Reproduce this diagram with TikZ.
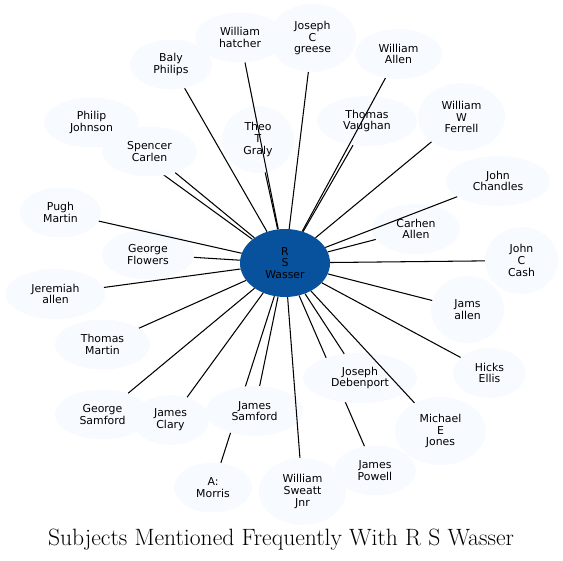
\documentclass[tikz,border=0pt]{standalone}
\usepackage{fontspec}
\usetikzlibrary{shapes.geometric}
\newfontfamily\dejavu{DejaVu Sans}
\definecolor{nodefill}{HTML}{F7FBFF}
\definecolor{hubfill}{HTML}{08519C}
\tikzset{
  sub/.style={ellipse, fill=nodefill, draw=none, inner sep=0pt, align=center,
    font=\dejavu\fontsize{10.9}{11.7}\selectfont},
  hub/.style={sub, fill=hubfill},
  sz/.style 2 args={minimum width=#1pt, minimum height=#2pt},
  link/.style={draw=black, line width=1.05pt},
}
\begin{document}
\begin{tikzpicture}[x=1pt,y=-1pt]
\useasboundingbox (0,0) rectangle (563,561);
% hub
\node[hub, sz={90}{68}] (c) at (285,263) {R\\S\\Wasser};
% nodes
\node[sub, sz={90}{50}] (hatcher) at (240,37.5) {William\\hatcher};
\node[sub, sz={87}{68}] (greese) at (312.5,38) {Joseph\\C\\greese};
\node[sub, sz={82}{50}] (baly) at (171,64.5) {Baly\\Philips};
\node[sub, sz={87}{50}] (wallen) at (398.5,54) {William\\Allen};
\node[sub, sz={95}{50}] (philip) at (91.5,122.5) {Philip\\Johnson};
\node[sub, sz={72}{67}] (theo) at (258,139.5) {Theo\\T\\Graly};
\node[sub, sz={100}{50}] (vaughan) at (367,121) {Thomas\\Vaughan};
\node[sub, sz={87}{68}] (ferrell) at (461.5,117) {William\\W\\Ferrell};
\node[sub, sz={104}{50}] (chandles) at (498,181) {John\\Chandles};
\node[sub, sz={81}{50}] (pugh) at (60.5,212.5) {Pugh\\Martin};
\node[sub, sz={88}{50}] (carhen) at (416,229) {Carhen\\Allen};
\node[sub, sz={92}{50}] (flowers) at (148,254.5) {George\\Flowers};
\node[sub, sz={73}{67}] (cash) at (521.5,260.5) {John\\C\\Cash};
\node[sub, sz={100}{50}] (jeremiah) at (55.5,294) {Jeremiah\\allen};
\node[sub, sz={73}{67}] (jams) at (467.5,309.5) {Jams\\allen};
\node[sub, sz={95}{50}] (tmartin) at (102.5,344.5) {Thomas\\Martin};
\node[sub, sz={73}{50}] (hicks) at (489.5,373) {Hicks\\Ellis};
\node[sub, sz={95}{50}] (gsamford) at (102.5,414.5) {George\\Samford};
\node[sub, sz={77}{50}] (clary) at (170.5,420) {James\\Clary};
\node[sub, sz={91}{68}] (michael) at (440.5,431) {Michael\\E\\Jones};
\node[sub, sz={82}{50}] (powell) at (375,470.5) {James\\Powell};
\node[sub, sz={78}{50}] (morris) at (213,487.5) {A:\\Morris};
\node[sub, sz={87}{67}] (sweatt) at (302.5,491.5) {William\\Sweatt\\Jnr};
% edges partly hidden behind later nodes
\draw[link] (c) -- (philip);
\draw[link] (c) -- (morris);
\draw[link] (c) -- (powell);
% covering nodes
\node[sub, sz={95}{50}] (spencer) at (149.5,151.5) {Spencer\\Carlen};
\node[sub, sz={97}{50}] (jsamford) at (254.5,411) {James\\Samford};
\node[sub, sz={114}{50}] (debenport) at (360,378) {Joseph\\Debenport};
% remaining edges
\foreach \n in {hatcher,greese,baly,wallen,theo,vaughan,ferrell,chandles,pugh,
  carhen,flowers,cash,jeremiah,jams,tmartin,hicks,gsamford,clary,michael,sweatt,
  spencer,jsamford,debenport}
  \draw[link] (c) -- (\n);
% title
\node[anchor=base, inner sep=0pt, font=\fontsize{23.6}{27}\selectfont] (title) at (281,546)
  {Subjects Mentioned Frequently With R S Wasser};
\end{tikzpicture}
\end{document}
